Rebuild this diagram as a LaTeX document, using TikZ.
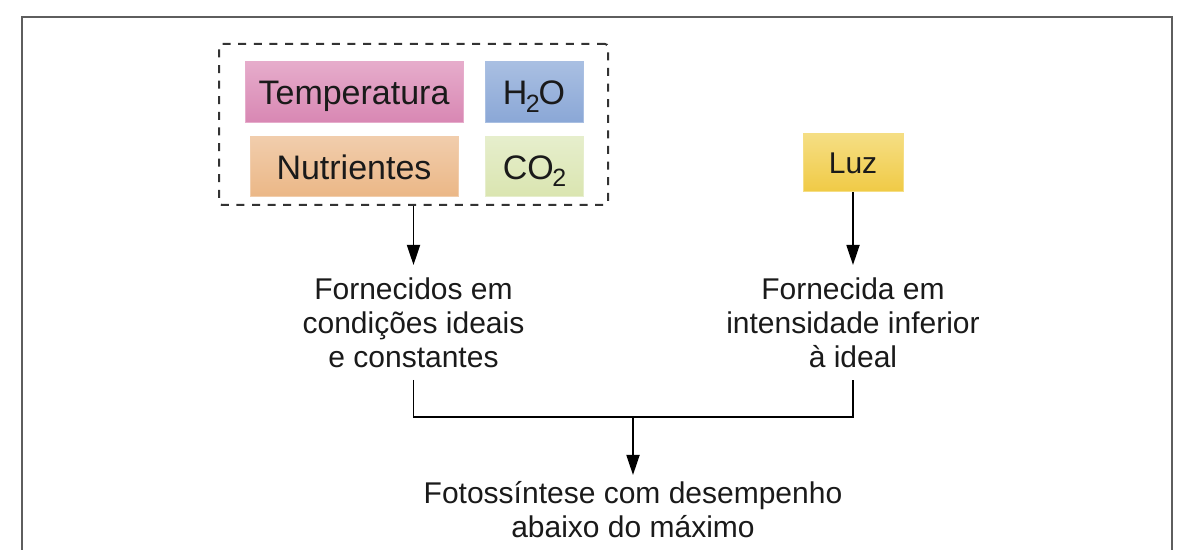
\documentclass[tikz,border=0pt]{standalone}
\usepackage{fontspec}
\setmainfont{Liberation Sans}
\usetikzlibrary{arrows.meta}
\definecolor{framegray}{HTML}{5E5E5E}
\definecolor{pinkT}{HTML}{E6ACCB}\definecolor{pinkB}{HTML}{D887B3}
\definecolor{blueT}{HTML}{A9BFE2}\definecolor{blueB}{HTML}{8AA7D6}
\definecolor{oranT}{HTML}{F1CDAC}\definecolor{oranB}{HTML}{EBB786}
\definecolor{greeT}{HTML}{E6EECC}\definecolor{greeB}{HTML}{DAE5B0}
\definecolor{yellT}{HTML}{F5DE84}\definecolor{yellB}{HTML}{F0CA45}
\definecolor{txt}{HTML}{1A1A1A}
\newcommand{\chemsub}[1]{\kern-0.8pt\raisebox{-3.8pt}{\fontsize{12.5}{12.5}\selectfont #1}\kern-0.6pt}
\tikzset{
  cbox/.style n args={2}{rectangle, top color=#1, bottom color=#2, draw=#1, line width=0.5pt,
    inner sep=0pt, text=txt, font=\fontsize{17}{20}\selectfont, text height=12.2pt, text depth=0pt},
  grpbox/.style={rectangle, draw=black!80, line width=1pt, dash pattern=on 4pt off 3.8pt,
    rounded corners=1.5pt, inner sep=0pt},
  lbl/.style={align=center, text=txt, font=\fontsize{15}{17}\selectfont, inner xsep=2pt, inner ysep=6pt},
  conn/.style={line width=0.9pt, black},
  arr/.style={conn, -{Triangle[length=10pt,width=6.5pt]}}
}
\begin{document}
\begin{tikzpicture}[x=0.5pt,y=-0.5pt]
\useasboundingbox (0,0) rectangle (1180,550);
\draw[framegray, line width=1pt] (22,550) -- (22,17) -- (1172,17) -- (1172,550);

\node[grpbox, minimum width=194.5pt, minimum height=80.5pt] (grp) at (413.5,124.5) {};
\node[cbox={pinkT}{pinkB}, minimum width=109pt, minimum height=30.5pt] (temp) at (354,92.5) {Temperatura};
\node[cbox={blueT}{blueB}, minimum width=49pt, minimum height=30.5pt] (h2o) at (534,92.5) {H\chemsub{2}O};
\node[cbox={oranT}{oranB}, minimum width=104pt, minimum height=30pt] (nutr) at (354,167) {Nutrientes};
\node[cbox={greeT}{greeB}, minimum width=49pt, minimum height=30pt] (co2) at (534,167) {CO\chemsub{2}};
\node[cbox={yellT}{yellB}, minimum width=50pt, minimum height=29pt, font=\fontsize{15}{18}\selectfont, text height=10.8pt] (luz) at (853,163) {Luz};

\node[lbl, anchor=north] (tl) at (413.5,265) {Fornecidos em\\condições ideais\\e constantes};
\node[lbl, anchor=north] (tr) at (853,265) {Fornecida em\\intensidade inferior\\à ideal};
\node[lbl, anchor=north, inner ysep=3pt] (res) at (633,475) {Fotossíntese com desempenho\\abaixo do máximo};
\coordinate (j) at (633,417);

\draw[arr] (grp.south) -- (tl.north);
\draw[arr] (luz.south) -- (tr.north);
\draw[conn] (tl.south) |- (j) -| (tr.south);
\draw[arr] (j) -- (res.north);
\end{tikzpicture}
\end{document}
